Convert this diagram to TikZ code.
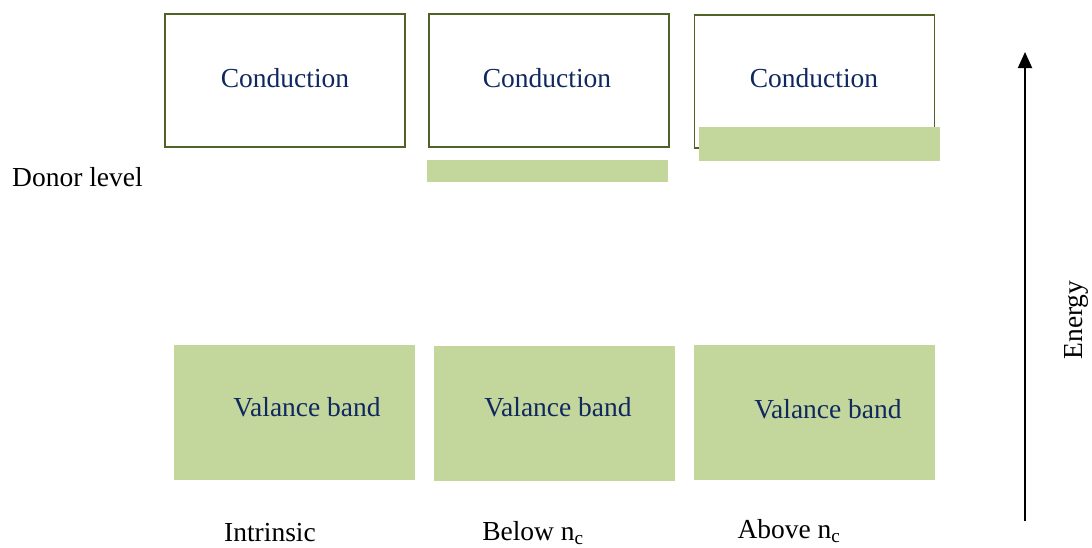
\documentclass[tikz,border=0pt]{standalone}
\usepackage{fontspec}
\setmainfont{Liberation Serif}
\usetikzlibrary{arrows.meta}
\definecolor{bandline}{RGB}{79,98,40}
\definecolor{bandfill}{RGB}{195,214,155}
\definecolor{bandtext}{RGB}{15,40,95}
\begin{document}
\begin{tikzpicture}[x=1pt,y=-1pt,
  cbox/.style={draw=bandline,line width=1.8pt,fill=white,minimum width=240pt,minimum height=133pt,inner sep=0pt},
  vbox/.style={fill=bandfill,minimum width=241pt,minimum height=135pt,inner sep=0pt},
  bar/.style={fill=bandfill,inner sep=0pt},
  btext/.style={text=bandtext,font=\fontsize{27.5}{30}\selectfont},
  ltext/.style={text=black,font=\fontsize{27.5}{30}\selectfont}]
\useasboundingbox (0,0) rectangle (1092,547);
% conduction boxes
\node[cbox] (c1) at (285,80.5) {};
\node[cbox] (c2) at (549,80.5) {};
\node[cbox] (c3) at (814.5,81.5) {};
\node[btext] (t1) at (285,78) {Conduction};
\node[btext] (t2) at (547,78) {Conduction};
% donor levels
\node[bar,minimum width=241pt,minimum height=22pt] (d2) at (547.5,171) {};
\node[bar,minimum width=241pt,minimum height=34pt] (d3) at (819.5,144) {};
\node[btext] (t3) at (814,78) {Conduction};
% valence bands
\node[vbox] (v1) at (294.5,412.5) {};
\node[vbox] (v2) at (554.5,413) {};
\node[vbox] (v3) at (814.5,412.5) {};
\node[btext] (vt1) at (307,407) {Valance band};
\node[btext] (vt2) at (558,407) {Valance band};
\node[btext] (vt3) at (828,409) {Valance band};
% labels
\node[ltext,anchor=west,inner sep=0pt] (dl) at (12,177) {Donor level};
\node[ltext] (l1) at (270,533) {Intrinsic};
\node[ltext] (l2) at (533,533) {Below n\textsubscript{c}};
\node[ltext] (l3) at (789,531) {Above n\textsubscript{c}};
% energy arrow
\coordinate (ea) at (1025,521);
\coordinate (eb) at (1025,52);
\draw[line width=1.8pt,-{Triangle[length=16pt,width=14pt]}] (ea) -- (eb);
\node[ltext,rotate=90] (en) at (1076,320) {Energy};
\end{tikzpicture}
\end{document}
